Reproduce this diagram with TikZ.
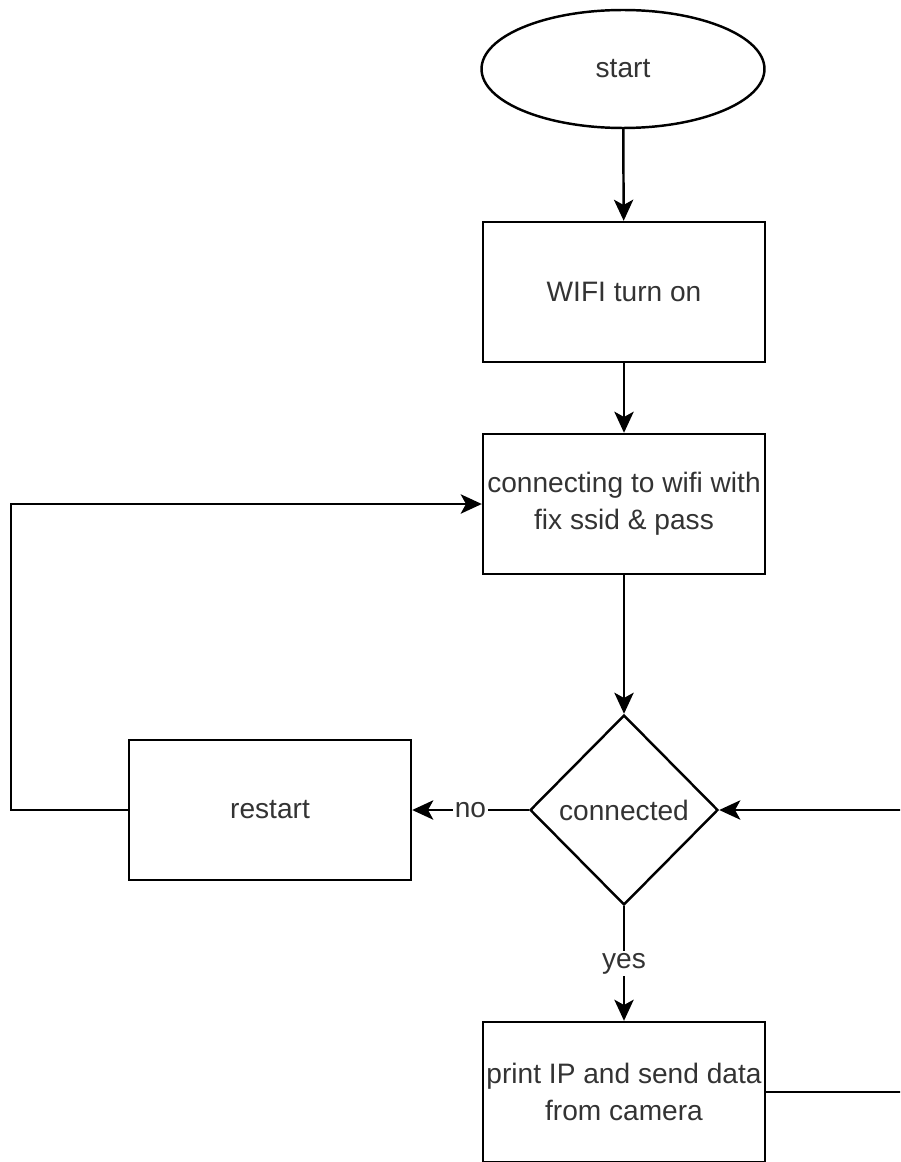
\documentclass[tikz,border=0pt]{standalone}
\usepackage{fontspec}
\setmainfont{Liberation Sans}
\usetikzlibrary{shapes.geometric,arrows.meta}
\begin{document}
\begin{tikzpicture}[x=0.02cm,y=-0.02cm,line width=1.4pt,>={Stealth[length=12pt,width=11pt,inset=3pt]},
        font=\fontsize{16}{21}\selectfont,
        box/.style={draw,rectangle,minimum width=5.64cm,minimum height=2.8cm,align=center,inner sep=1pt,text=black!80},
        term/.style={draw,ellipse,minimum width=5.66cm,minimum height=2.36cm,text=black!80},
        decide/.style={draw,diamond,minimum width=3.76cm,minimum height=3.8cm,inner sep=0pt,text=black!80},
        lbl/.style={fill=white,inner sep=1pt,text=black!80}]
                \clip (0,0) rectangle (900,1162);
                \node[term] (start) at (623,69) {start};
                \node[box] (wifi) at (624,292) {WIFI turn on};
                \node[box] (conn) at (624,504) {connecting to wifi with\\fix ssid \& pass};
                \node[decide] (ok) at (624,810) {connected};
                \node[box] (restart) at (270,810) {restart};
                \node[box] (send) at (624,1092) {print IP and send data\\from camera};
                \coordinate (lb) at (11,810);
                \coordinate (lt) at (11,504);
                \coordinate (rb) at (912,1092);
                \coordinate (rt) at (912,810);
                %===========================================
                \draw[->] (start)--(wifi);
                \draw[->] (wifi)--(conn);
                \draw[->] (conn)--(ok);
                \draw[->] (ok.west)--(restart.east) node[lbl,midway]{no};
                \draw[->] (ok.south)--(send.north) node[lbl,midway]{yes};
                \draw[->] (restart.west)--(lb)--(lt)--(conn.west);
                \draw[->] (send.east)--(rb)--(rt)--(ok.east);
        \end{tikzpicture}
\end{document}
